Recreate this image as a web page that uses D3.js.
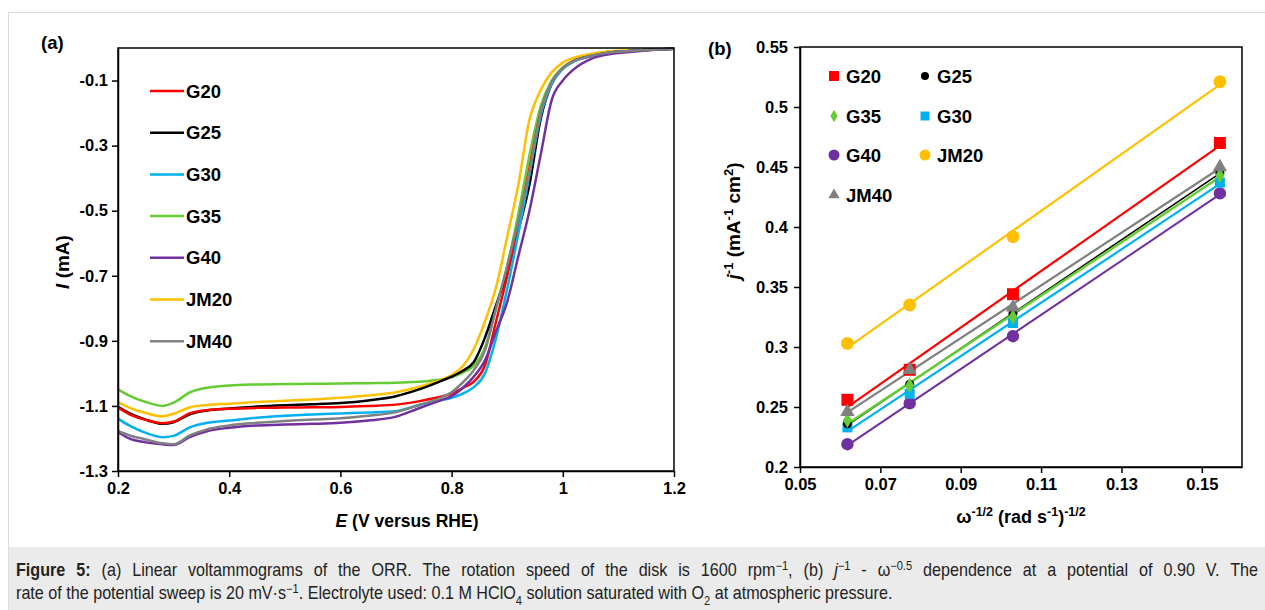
<!DOCTYPE html>
<html><head><meta charset="utf-8">
<script src="https://cdn.jsdelivr.net/npm/d3@7"></script>
<style>
html,body{margin:0;padding:0;background:#fff;}
svg{display:block;font-family:'Liberation Sans',Arial,sans-serif;}
</style></head>
<body>
<svg id="chart" width="1265" height="610"></svg>
<script>
// ---------- Panel (a) data: LSV curves ----------
const potentials = [0.2,0.22,0.25,0.28,0.3,0.33,0.36,0.4,0.45,0.5,0.55,0.6,0.65,0.7,0.74,0.78,0.8,0.82,0.84,0.86,0.88,0.9,0.92,0.94,0.96,0.98,1.0,1.02,1.05,1.08,1.12,1.16,1.2];
const I_G20  = [-1.105,-1.125,-1.143,-1.153,-1.148,-1.122,-1.113,-1.109,-1.106,-1.105,-1.104,-1.103,-1.100,-1.096,-1.086,-1.072,-1.062,-1.045,-1.025,-0.975,-0.84,-0.70,-0.54,-0.37,-0.20,-0.105,-0.062,-0.040,-0.025,-0.015,-0.009,-0.005,-0.002];
const I_G25  = [-1.103,-1.122,-1.142,-1.155,-1.150,-1.125,-1.114,-1.108,-1.102,-1.098,-1.095,-1.091,-1.083,-1.070,-1.050,-1.024,-1.010,-0.992,-0.965,-0.89,-0.79,-0.69,-0.56,-0.42,-0.22,-0.11,-0.063,-0.040,-0.025,-0.015,-0.009,-0.005,-0.002];
const I_G30  = [-1.139,-1.160,-1.183,-1.196,-1.192,-1.165,-1.152,-1.145,-1.136,-1.130,-1.126,-1.123,-1.120,-1.116,-1.098,-1.083,-1.075,-1.062,-1.042,-1.000,-0.89,-0.74,-0.57,-0.39,-0.21,-0.11,-0.064,-0.041,-0.025,-0.015,-0.009,-0.005,-0.002];
const I_G35  = [-1.049,-1.068,-1.088,-1.100,-1.090,-1.058,-1.044,-1.037,-1.034,-1.033,-1.032,-1.031,-1.030,-1.029,-1.026,-1.019,-1.012,-0.998,-0.976,-0.92,-0.80,-0.67,-0.51,-0.33,-0.18,-0.10,-0.060,-0.038,-0.024,-0.015,-0.009,-0.005,-0.002];
const I_G40  = [-1.180,-1.200,-1.212,-1.218,-1.220,-1.195,-1.178,-1.167,-1.160,-1.157,-1.155,-1.152,-1.145,-1.133,-1.108,-1.083,-1.070,-1.045,-1.010,-0.96,-0.87,-0.78,-0.64,-0.50,-0.33,-0.16,-0.10,-0.065,-0.034,-0.020,-0.012,-0.006,-0.002];
const I_JM20 = [-1.088,-1.105,-1.122,-1.132,-1.124,-1.104,-1.097,-1.093,-1.088,-1.084,-1.080,-1.075,-1.068,-1.058,-1.042,-1.020,-1.005,-0.978,-0.925,-0.84,-0.735,-0.58,-0.42,-0.22,-0.13,-0.075,-0.045,-0.030,-0.018,-0.011,-0.007,-0.004,-0.002];
const I_JM40 = [-1.177,-1.190,-1.203,-1.215,-1.218,-1.190,-1.172,-1.160,-1.152,-1.146,-1.142,-1.138,-1.130,-1.119,-1.098,-1.075,-1.058,-1.028,-0.990,-0.93,-0.80,-0.67,-0.53,-0.38,-0.20,-0.105,-0.062,-0.040,-0.024,-0.015,-0.009,-0.005,-0.002];
const namesA = ["G20","G25","G30","G35","G40","JM20","JM40"];
const curvesA = [I_G20,I_G25,I_G30,I_G35,I_G40,I_JM20,I_JM40];
const xTicksA = [0.2,0.4,0.6,0.8,1,1.2];
const yTicksA = [-1.3,-1.1,-0.9,-0.7,-0.5,-0.3,-0.1];

// ---------- Panel (b) data: Koutecky-Levich ----------
const omegaInvSqrt = [0.0618,0.0773,0.1030,0.1545];
const K_G20  = [0.256,0.281,0.344,0.470];
const K_G25  = [0.236,0.269,0.328,0.445];
const K_G35  = [0.239,0.268,0.325,0.443];
const K_G30  = [0.233,0.261,0.320,0.437];
const K_G40  = [0.219,0.253,0.309,0.428];
const K_JM20 = [0.303,0.335,0.392,0.521];
const K_JM40 = [0.246,0.281,0.333,0.450];
const namesB = ["G20","G25","G35","G30","G40","JM20","JM40"];
const seriesB = [K_G20,K_G25,K_G35,K_G30,K_G40,K_JM20,K_JM40];
const xTicksB = [0.05,0.07,0.09,0.11,0.13,0.15];
const yTicksB = [0.2,0.25,0.3,0.35,0.4,0.45,0.5,0.55];

// ---------- styles ----------
const colors = {G20:"#ff0000",G25:"#000000",G30:"#00b0f0",G35:"#66cc33",G40:"#7030a0",JM20:"#ffc000",JM40:"#808080"};
const markerB = {
  G20:{shape:d3.symbolSquare,size:144,leg:100},
  G25:{shape:d3.symbolCircle,size:64,leg:50},
  G35:{shape:d3.symbolDiamond,size:70,leg:45},
  G30:{shape:d3.symbolSquare,size:100,leg:80},
  G40:{shape:d3.symbolCircle,size:120,leg:95},
  JM20:{shape:d3.symbolCircle,size:130,leg:95},
  JM40:{shape:d3.symbolTriangle,size:90,leg:55}
};
const lineW = {G20:2.2,G25:1.5,G35:2.5,G30:2.2,G40:2,JM20:2.2,JM40:2.2};
const TICK_FS = 16.5, LEG_FS = 18.5;

const svg = d3.select("#chart");

// figure container + caption
svg.append("rect").attr("x",8.5).attr("y",12.5).attr("width",1265).attr("height",600)
  .attr("fill","#fff").attr("stroke","#dcdcdc");
svg.append("rect").attr("x",9).attr("y",547).attr("width",1256).attr("height",63).attr("fill","#ebebeb");

function styleAxis(ax){
  ax.selectAll("path").attr("stroke","#000").attr("stroke-width",1.5);
  ax.selectAll("line").attr("stroke","#000").attr("stroke-width",1.5);
  ax.selectAll("text").attr("font-size",TICK_FS).attr("font-weight","bold").attr("fill","#000")
    .attr("font-family","'Liberation Sans',Arial,sans-serif");
}

// ---------- Panel (a) ----------
const A = {l:118,r:674,t:48,b:471};
const xA = d3.scaleLinear().domain([0.2,1.2]).range([A.l,A.r]);
const yA = d3.scaleLinear().domain([-1.3,0]).range([A.b,A.t]);
const gA = svg.append("g");

const lineA = d3.line().x(d=>xA(d[0])).y(d=>yA(d[1])).curve(d3.curveMonotoneX);
const drawOrder = ["G35","JM20","G25","G20","G30","G40","JM40"];
drawOrder.forEach(n=>{
  const vals = curvesA[namesA.indexOf(n)];
  gA.append("path").datum(potentials.map((e,i)=>[e,vals[i]]))
    .attr("d",lineA).attr("fill","none").attr("stroke",colors[n]).attr("stroke-width",2.5);
});

gA.append("rect").attr("x",A.l).attr("y",A.t).attr("width",A.r-A.l).attr("height",A.b-A.t)
  .attr("fill","none").attr("stroke","#000").attr("stroke-width",1.5);
styleAxis(gA.append("g").attr("transform",`translate(0,${A.b})`)
  .call(d3.axisBottom(xA).tickValues(xTicksA).tickFormat(d=>String(d)).tickSize(6).tickSizeOuter(0).tickPadding(5)));
styleAxis(gA.append("g").attr("transform",`translate(${A.l},0)`)
  .call(d3.axisLeft(yA).tickValues(yTicksA).tickFormat(d=>String(d)).tickSize(6).tickSizeOuter(0).tickPadding(4)));

// legend (a)
namesA.forEach((n,i)=>{
  const y = 91 + i*41.7;
  gA.append("line").attr("x1",150).attr("x2",184).attr("y1",y).attr("y2",y)
    .attr("stroke",colors[n]).attr("stroke-width",2.5);
  gA.append("text").attr("x",186).attr("y",y).attr("dy","0.36em").text(n)
    .attr("font-size",LEG_FS).attr("font-weight","bold");
});

// titles (a)
const tA = gA.append("text").attr("x",407).attr("y",527).attr("text-anchor","middle")
  .attr("font-size",17.5).attr("font-weight","bold");
tA.append("tspan").attr("font-style","italic").text("E");
tA.append("tspan").text(" (V versus RHE)");
const tAy = gA.append("text").attr("transform","translate(69,262) rotate(-90)").attr("text-anchor","middle")
  .attr("font-size",19).attr("font-weight","bold");
tAy.append("tspan").attr("font-style","italic").text("I");
tAy.append("tspan").text(" (mA)");
gA.append("text").attr("x",41).attr("y",49).text("(a)").attr("font-size",LEG_FS).attr("font-weight","bold");

// ---------- Panel (b) ----------
const B = {l:800,r:1242,t:47,b:467};
const xB = d3.scaleLinear().domain([0.05,0.16]).range([B.l,B.r]);
const yB = d3.scaleLinear().domain([0.2,0.55]).range([B.b,B.t]);
const gB = svg.append("g");

function fit(xs,ys){
  const mx=d3.mean(xs), my=d3.mean(ys);
  const sxy=d3.sum(xs,(x,i)=>(x-mx)*(ys[i]-my)), sxx=d3.sum(xs,x=>(x-mx)*(x-mx));
  const m=sxy/sxx; return {m, c:my-m*mx};
}
const orderB = ["JM20","G20","G40","G30","G25","G35","JM40"];
orderB.forEach(n=>{
  const ys = seriesB[namesB.indexOf(n)];
  const f = fit(omegaInvSqrt,ys);
  const x0=d3.min(omegaInvSqrt), x1=d3.max(omegaInvSqrt);
  gB.append("line").attr("x1",xB(x0)).attr("y1",yB(f.m*x0+f.c)).attr("x2",xB(x1)).attr("y2",yB(f.m*x1+f.c))
    .attr("stroke",colors[n]).attr("stroke-width",lineW[n]);
});
orderB.forEach(n=>{
  const ys = seriesB[namesB.indexOf(n)];
  gB.selectAll(null).data(omegaInvSqrt.map((x,i)=>[x,ys[i]])).enter().append("path")
    .attr("transform",d=>`translate(${xB(d[0])},${yB(d[1])})`)
    .attr("d",d3.symbol().type(markerB[n].shape).size(markerB[n].size))
    .attr("fill",colors[n]);
});

gB.append("rect").attr("x",B.l).attr("y",B.t).attr("width",B.r-B.l).attr("height",B.b-B.t)
  .attr("fill","none").attr("stroke","#000").attr("stroke-width",1.5);
styleAxis(gB.append("g").attr("transform",`translate(0,${B.b})`)
  .call(d3.axisBottom(xB).tickValues(xTicksB).tickFormat(d=>String(d)).tickSize(6).tickSizeOuter(0).tickPadding(5)));
styleAxis(gB.append("g").attr("transform",`translate(${B.l},0)`)
  .call(d3.axisLeft(yB).tickValues(yTicksB).tickFormat(d=>String(d)).tickSize(6).tickSizeOuter(0).tickPadding(6)));

// legend (b)
const legPos = [[834,76],[925,76],[834,116],[925,116],[834,155],[925,155],[834,195]];
const legNames = ["G20","G25","G35","G30","G40","JM20","JM40"];
legNames.forEach((n,i)=>{
  const [x,y]=legPos[i];
  gB.append("path").attr("transform",`translate(${x},${y})`)
    .attr("d",d3.symbol().type(markerB[n].shape).size(markerB[n].leg)).attr("fill",colors[n]);
  gB.append("text").attr("x",x+12).attr("y",y).attr("dy","0.36em").text(n)
    .attr("font-size",LEG_FS).attr("font-weight","bold");
});

// titles (b)
const tBx = gB.append("text").attr("x",1021).attr("y",523).attr("text-anchor","middle")
  .attr("font-size",18).attr("font-weight","bold");
tBx.append("tspan").text("ω");
tBx.append("tspan").attr("baseline-shift","super").attr("font-size",12.5).text("-1/2");
tBx.append("tspan").text(" (rad s");
tBx.append("tspan").attr("baseline-shift","super").attr("font-size",12.5).text("-1");
tBx.append("tspan").text(")");
tBx.append("tspan").attr("baseline-shift","super").attr("font-size",12.5).text("-1/2");
const tBy = gB.append("text").attr("transform","translate(740,221) rotate(-90)").attr("text-anchor","middle")
  .attr("font-size",19).attr("font-weight","bold");
tBy.append("tspan").attr("font-style","italic").text("j");
tBy.append("tspan").attr("baseline-shift","super").attr("font-size",13).text("-1");
tBy.append("tspan").text(" (mA");
tBy.append("tspan").attr("baseline-shift","super").attr("font-size",13).text("-1");
tBy.append("tspan").text(" cm");
tBy.append("tspan").attr("baseline-shift","super").attr("font-size",13).text("2");
tBy.append("tspan").text(")");
gB.append("text").attr("x",708).attr("y",55).text("(b)").attr("font-size",LEG_FS).attr("font-weight","bold");

// ---------- caption (condensed look: larger font squeezed horizontally) ----------
const CAP_FS = 17.5;
const cap = svg.append("g").attr("font-family","'Liberation Sans',Arial,sans-serif")
  .attr("font-size",CAP_FS).attr("fill","#222");
const l2 = cap.append("text").attr("x",0).attr("y",599);
l2.append("tspan").text("rate of the potential sweep is 20 mV·s");
l2.append("tspan").attr("baseline-shift","super").attr("font-size",12).text("−1");
l2.append("tspan").text(". Electrolyte used: 0.1 M HClO");
l2.append("tspan").attr("baseline-shift","sub").attr("font-size",12).text("4");
l2.append("tspan").text(" solution saturated with O");
l2.append("tspan").attr("baseline-shift","sub").attr("font-size",12).text("2");
l2.append("tspan").text(" at atmospheric pressure.");
const sx = 877 / l2.node().getComputedTextLength();
l2.attr("transform",`translate(16,0) scale(${sx},1)`);

const l1 = cap.append("text").attr("x",0).attr("y",576);
l1.append("tspan").attr("font-weight","bold").text("Figure 5:");
l1.append("tspan").text(" (a) Linear voltammograms of the ORR. The rotation speed of the disk is 1600 rpm");
l1.append("tspan").attr("baseline-shift","super").attr("font-size",12).text("−1");
l1.append("tspan").text(", (b) ");
l1.append("tspan").attr("font-style","italic").text("j");
l1.append("tspan").attr("baseline-shift","super").attr("font-size",12).text("−1");
l1.append("tspan").text(" - ω");
l1.append("tspan").attr("baseline-shift","super").attr("font-size",12).text("−0.5");
l1.append("tspan").text(" dependence at a potential of 0.90 V. The");
l1.attr("transform",`translate(16,0) scale(${sx},1)`);
// justify first line to the caption width
const natural = l1.node().getComputedTextLength();
const nSpaces = (l1.text().match(/ /g)||[]).length;
l1.style("word-spacing", Math.max(0,(1242/sx - natural)/nSpaces) + "px");
</script>
</body></html>
